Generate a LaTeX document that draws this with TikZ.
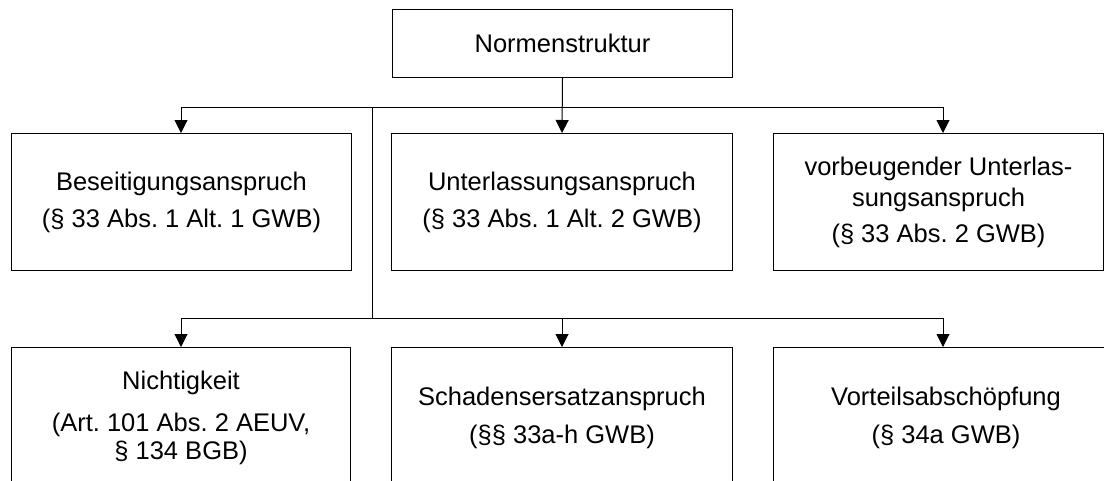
\documentclass[tikz,border=0pt]{standalone}
\usepackage{fontspec}
\setmainfont{Liberation Sans}
\usetikzlibrary{arrows.meta}
\frenchspacing
\begin{document}
\begin{tikzpicture}[x=1pt,y=-1pt,
  box/.style={draw, line width=1pt, inner sep=0pt, align=center,
    font=\fontsize{25.5}{31}\selectfont\frenchspacing, anchor=north west},
  arr/.style={line width=1pt, -{Triangle[length=13pt,width=13pt]}},
  ln/.style={line width=1pt}]
\useasboundingbox (0,0) rectangle (1104,480);
\node[box, minimum width=340pt, minimum height=68pt] (top) at (392,9) {Normenstruktur};
\node[box, minimum width=340pt, minimum height=137pt] (r1a) at (11,133)
  {Beseitigungsanspruch\\[6pt](§ 33 Abs. 1 Alt. 1 GWB)};
\node[box, minimum width=341pt, minimum height=137pt] (r1b) at (391,133)
  {Unterlassungsanspruch\\[6pt](§ 33 Abs. 1 Alt. 2 GWB)};
\node[box, minimum width=330pt, minimum height=137pt] (r1c) at (773,133)
  {vorbeugender Unterlas-\\sungsanspruch\\[5pt](§ 33 Abs. 2 GWB)};
\node[box, minimum width=339pt, minimum height=140pt] (r2a) at (11,347)
  {Nichtigkeit\\[11pt](Art. 101 Abs. 2 AEUV,\\[-3pt]§ 134 BGB)};
\node[box, minimum width=341pt, minimum height=140pt] (r2b) at (391,347)
  {Schadensersatzanspruch\\[7pt](§§ 33a-h GWB)};
\node[box, minimum width=345pt, minimum height=140pt] (r2c) at (773,347)
  {Vorteilsabschöpfung\\[7pt](§ 34a GWB)};
\coordinate (h1l) at (181,107);
\coordinate (h1r) at (943,107);
\coordinate (h2l) at (181,318);
\coordinate (h2r) at (943,318);
\coordinate (j) at (372,107);
\draw[ln] (h1l) -- (h1r);
\draw[arr] (top.south) -- (r1b.north);
\draw[arr] (h1l) -- (h1l |- r1a.north);
\draw[arr] (h1r) -- (h1r |- r1c.north);
\draw[ln] (j) -- (j |- h2l);
\draw[ln] (h2l) -- (h2r);
\draw[arr] (h2l) -- (h2l |- r2a.north);
\draw[arr] (r2b.north |- h2l) -- (r2b.north);
\draw[arr] (h2r) -- (h2r |- r2c.north);
\end{tikzpicture}
\end{document}
